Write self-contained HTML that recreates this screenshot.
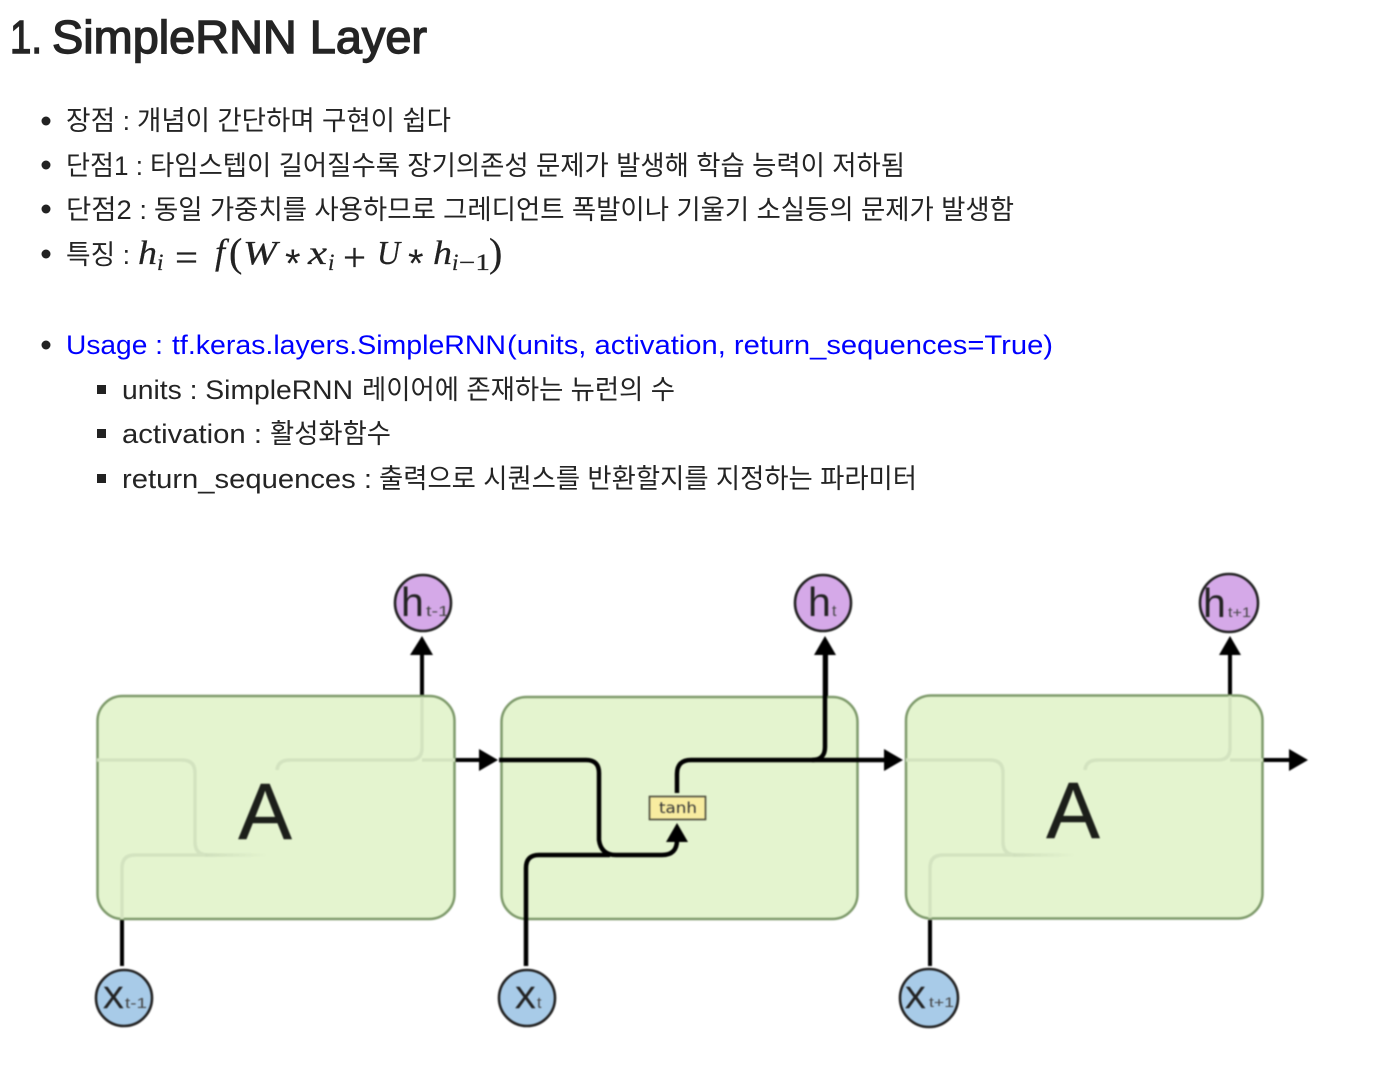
<!DOCTYPE html>
<html><head><meta charset="utf-8"><style>
html,body{margin:0;padding:0;background:#fff}
svg{display:block}
.t{font-family:"Liberation Sans","Noto Sans CJK KR",sans-serif;font-size:27px;fill:#242424}
.b{fill:#0000ff}
.m{font-family:"Liberation Serif",serif;font-size:34px;fill:#222;font-style:italic;stroke:#222;stroke-width:.25}
.r{font-style:normal}
.s{font-size:23px}
.l{font-family:"Liberation Sans",sans-serif;fill:#222}
</style></head><body>
<svg xmlns="http://www.w3.org/2000/svg" width="1390" height="1072" viewBox="0 0 1390 1072">
<defs>
<linearGradient id="f1" gradientUnits="userSpaceOnUse" x1="205" y1="0" x2="268" y2="0"><stop offset="0" stop-color="#cfdfbc"/><stop offset="1" stop-color="#e4f4cf"/></linearGradient>
<linearGradient id="f2" gradientUnits="userSpaceOnUse" x1="1013" y1="0" x2="1076" y2="0"><stop offset="0" stop-color="#cfdfbc"/><stop offset="1" stop-color="#e4f4cf"/></linearGradient>
</defs>
<rect width="1390" height="1072" fill="#fff"/>
<g font-family="Liberation Sans, sans-serif" font-size="46" fill="#242424" stroke="#242424" stroke-width="1.4">
<text x="10" y="53" textLength="32" lengthAdjust="spacingAndGlyphs">1.</text>
<text x="52" y="53" textLength="375" lengthAdjust="spacingAndGlyphs">SimpleRNN Layer</text>
</g>

<g fill="#222"><circle cx="46" cy="121" r="4.5"/><circle cx="46" cy="165" r="4.5"/><circle cx="46" cy="209" r="4.5"/><circle cx="46" cy="254" r="4.5"/><circle cx="46" cy="345" r="4.5"/>
<rect x="97" y="385" width="9" height="9"/><rect x="97" y="429" width="9" height="9"/><rect x="97" y="474" width="9" height="9"/></g>

<text class="t" x="66" y="130" textLength="64" lengthAdjust="spacingAndGlyphs">장점 :</text>
<text class="t" x="137" y="130" textLength="314" lengthAdjust="spacingAndGlyphs">개념이 간단하며 구현이 쉽다</text>
<text class="t" x="66" y="175" textLength="77" lengthAdjust="spacingAndGlyphs">단점1 :</text>
<text class="t" x="150" y="175" textLength="755" lengthAdjust="spacingAndGlyphs">타임스텝이 길어질수록 장기의존성 문제가 발생해 학습 능력이 저하됨</text>
<text class="t" x="66" y="219" textLength="81" lengthAdjust="spacingAndGlyphs">단점2 :</text>
<text class="t" x="154" y="219" textLength="860" lengthAdjust="spacingAndGlyphs">동일 가중치를 사용하므로 그레디언트 폭발이나 기울기 소실등의 문제가 발생함</text>
<text class="t" x="66" y="264" textLength="64" lengthAdjust="spacingAndGlyphs">특징 :</text>

<text class="m" x="138" y="264" textLength="19" lengthAdjust="spacingAndGlyphs">h</text><text class="m s" x="157" y="270">i</text>
<text class="m r" x="175" y="271" style="font-size:40px" textLength="23" lengthAdjust="spacingAndGlyphs">=</text>
<text class="m" x="215" y="264" style="font-size:36px">f</text>
<text class="m r" x="229" y="266" style="font-size:40px">(</text>
<text class="m" x="243" y="264" textLength="34" lengthAdjust="spacingAndGlyphs">W</text>
<text class="l" x="285" y="277" font-size="40">*</text>
<text class="m" x="308" y="264" textLength="19" lengthAdjust="spacingAndGlyphs">x</text><text class="m s" x="328" y="270">i</text>
<text class="m r" x="343" y="271" style="font-size:40px" textLength="23" lengthAdjust="spacingAndGlyphs">+</text>
<text class="m" x="377" y="264" textLength="23" lengthAdjust="spacingAndGlyphs">U</text>
<text class="l" x="408" y="277" font-size="40">*</text>
<text class="m" x="433" y="264" textLength="19" lengthAdjust="spacingAndGlyphs">h</text><text class="m s" x="452" y="270">i</text>
<text class="m r s" x="459" y="270" textLength="31" lengthAdjust="spacingAndGlyphs">−1</text>
<text class="m r" x="489" y="266" style="font-size:40px">)</text>

<text class="t b" x="66" y="354" textLength="97" lengthAdjust="spacingAndGlyphs">Usage :</text>
<text class="t b" x="172" y="354" textLength="334" lengthAdjust="spacingAndGlyphs">tf.keras.layers.SimpleRNN</text>
<text class="t b" x="507" y="354" textLength="546" lengthAdjust="spacingAndGlyphs">(units, activation, return_sequences=True)</text>
<text class="t" x="122" y="399" textLength="231" lengthAdjust="spacingAndGlyphs">units : SimpleRNN</text>
<text class="t" x="362" y="399" textLength="313" lengthAdjust="spacingAndGlyphs">레이어에 존재하는 뉴런의 수</text>
<text class="t" x="122" y="443" textLength="140" lengthAdjust="spacingAndGlyphs">activation :</text>
<text class="t" x="270" y="443" textLength="121" lengthAdjust="spacingAndGlyphs">활성화함수</text>
<text class="t" x="122" y="488" textLength="250" lengthAdjust="spacingAndGlyphs">return_sequences :</text>
<text class="t" x="379" y="488" textLength="538" lengthAdjust="spacingAndGlyphs">출력으로 시퀀스를 반환할지를 지정하는 파라미터</text>

<g style="filter:blur(0.8px)">
<g fill="none" stroke="#000" stroke-width="4">
<path d="M422 696V650"/><path d="M826 760V650"/><path d="M1230 696V650"/>
<path d="M122 920V966"/><path d="M930 920V966"/>
<path d="M455 760H482"/><path d="M1263 760H1291"/>
</g>
<g fill="#000">
<path d="M422 636L433 655H410Z"/><path d="M825 636L836 655H814Z"/><path d="M1230 636L1241 655H1219Z"/>
<path d="M498 760L479 749V771Z"/><path d="M903 760L884 749V771Z"/><path d="M1308 760L1289 749V771Z"/>
</g>

<rect x="97.5" y="696" width="357" height="223" rx="25" fill="#e4f4cf" stroke="#7e9a6b" stroke-width="2.5"/>
<rect x="501.5" y="697" width="356" height="222" rx="25" fill="#e4f4cf" stroke="#7e9a6b" stroke-width="2.5"/>
<rect x="906" y="695.5" width="356.5" height="223" rx="25" fill="#e4f4cf" stroke="#7e9a6b" stroke-width="2.5"/>

<g fill="none" stroke="#d3e3c0" stroke-width="3.5">
<path d="M97 760H182Q195 760 195 773V842Q195 855 208 855" />
<path d="M122 919V868Q122 855 135 855H205"/>
<path d="M205 855H268" stroke="url(#f1)"/>
<path d="M277 770Q278 760 290 760H410Q422 760 422 748V697"/>
<path d="M422 760H455"/>
<path d="M906 760H990Q1003 760 1003 773V842Q1003 855 1016 855"/>
<path d="M930 918V868Q930 855 943 855H1013"/>
<path d="M1013 855H1076" stroke="url(#f2)"/>
<path d="M1085 770Q1086 760 1098 760H1218Q1230 760 1230 748V696"/>
<path d="M1230 760H1263"/>
</g>

<g fill="none" stroke="#000" stroke-width="4.5">
<path d="M499 760H586Q599 760 599 773V840Q601 855 616 855H662Q677 855 677 840"/>
<path d="M526 966V868Q526 855 539 855H610"/>
<path d="M677 793V774Q677 760 691 760H886"/>
<path d="M812 760Q825 760 825 747V650"/>
</g>
<path d="M677 823L688 842H666Z" fill="#000"/>
<rect x="649.5" y="796.5" width="56" height="23" fill="#f8eca0" stroke="#4a4a3a" stroke-width="1.6"/>
<text x="659" y="813" textLength="38" lengthAdjust="spacingAndGlyphs" font-family="DejaVu Sans, sans-serif" font-size="15" fill="#333">tanh</text>

<text class="l" x="265" y="839" text-anchor="middle" font-size="80" style="fill:#1c1f1a;stroke:#1c1f1a;stroke-width:.6">A</text>
<text class="l" x="1073" y="838" text-anchor="middle" font-size="80" style="fill:#1c1f1a;stroke:#1c1f1a;stroke-width:.6">A</text>

<g stroke="#222" stroke-width="2.6">
<circle cx="423" cy="603" r="28" fill="#d5a9e8"/><circle cx="823" cy="603" r="28" fill="#d5a9e8"/><circle cx="1229" cy="603" r="29" fill="#d5a9e8"/>
<circle cx="124" cy="998" r="28" fill="#a8cbe8"/><circle cx="527" cy="998" r="28" fill="#a8cbe8"/><circle cx="929" cy="998" r="29" fill="#a8cbe8"/>
</g>
<g class="l">
<text x="401" y="616" font-size="41">h</text><text x="426" y="616" font-size="15" fill="#444" textLength="23" lengthAdjust="spacingAndGlyphs">t-1</text>
<text x="808" y="616" font-size="41">h</text><text x="832" y="616" font-size="16" fill="#444">t</text>
<text x="1203" y="617" font-size="41">h</text><text x="1228" y="617" font-size="14" fill="#444" textLength="23" lengthAdjust="spacingAndGlyphs">t+1</text>
<text x="103" y="1008" font-size="31" stroke="#222" stroke-width=".5">X</text><text x="125" y="1008" font-size="15" fill="#444" textLength="22" lengthAdjust="spacingAndGlyphs">t-1</text>
<text x="515" y="1008" font-size="31" stroke="#222" stroke-width=".5">X</text><text x="537" y="1008" font-size="16" fill="#444">t</text>
<text x="905" y="1008" font-size="31" stroke="#222" stroke-width=".5">X</text><text x="929" y="1007" font-size="14" fill="#444" textLength="25" lengthAdjust="spacingAndGlyphs">t+1</text>
</g>
</g>
</svg>
</body></html>
